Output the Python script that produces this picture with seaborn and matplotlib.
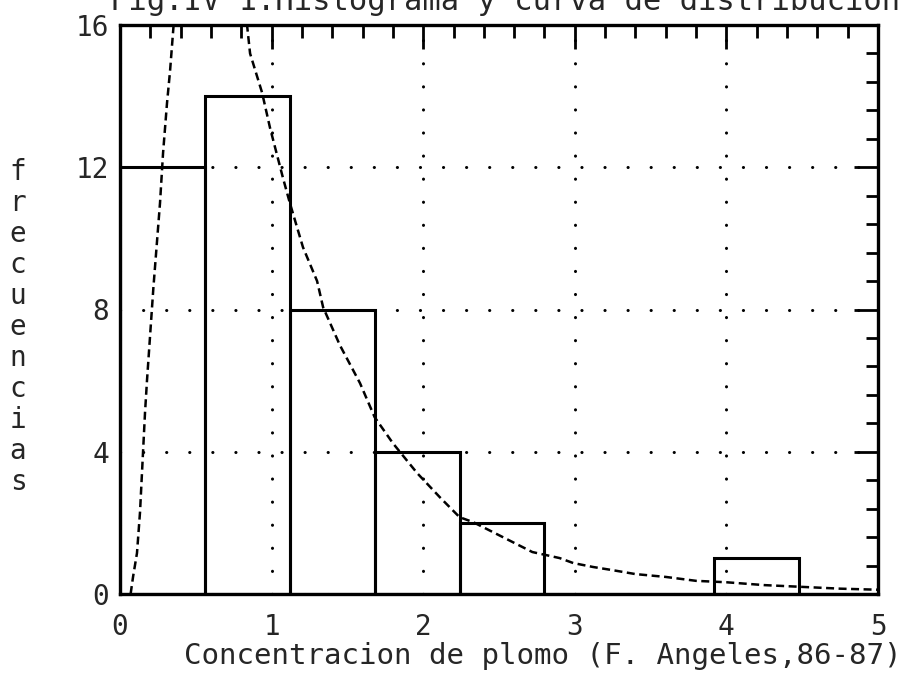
import numpy as np
import pandas as pd
import matplotlib
matplotlib.use("Agg")
import matplotlib.pyplot as plt
from matplotlib.ticker import MultipleLocator
import seaborn as sns

# Histogram: lead concentration classes and their frequencies
bin_edges = [0.0, 0.56, 1.12, 1.68, 2.24, 2.80, 3.36, 3.92, 4.48, 5.04]
frequencies = [12, 14, 8, 4, 2, 0, 0, 1, 0]

# Fitted distribution curve (expected frequency per class)
curve_x = [0.07, 0.086, 0.112, 0.132, 0.152, 0.165, 0.178, 0.22, 0.264, 0.284,
           0.31, 0.33, 0.35, 0.40, 0.50, 0.60, 0.70, 0.80, 0.838, 0.858, 0.937,
           0.99, 1.075, 1.12, 1.207, 1.30, 1.34, 1.45, 1.583, 1.68, 1.80, 1.96,
           2.11, 2.24, 2.33, 2.46, 2.59, 2.72, 2.90, 2.99, 3.12, 3.25, 3.40,
           3.60, 3.80, 4.00, 4.25, 4.50, 4.75, 5.00]
curve_y = [0.0, 0.48, 1.15, 2.3, 4.0, 5.1, 6.0, 8.6, 11.0, 12.4,
           13.8, 14.7, 15.8, 18.5, 20.5, 20.5, 19.0, 17.0, 16.0, 15.2, 14.1,
           13.1, 11.7, 11.0, 9.75, 8.8, 8.06, 7.0, 5.93, 4.97, 4.24, 3.40,
           2.72, 2.16, 2.02, 1.74, 1.46, 1.18, 1.01, 0.87, 0.76, 0.67, 0.56,
           0.48, 0.37, 0.33, 0.25, 0.20, 0.15, 0.12]

x_ticks = [0, 1, 2, 3, 4, 5]
y_ticks = [0, 4, 8, 12, 16]

title = "Fig.IV 1.Histograma y curva de distribucion"
x_label = "Concentracion de plomo (F. Angeles,86-87)"
y_label = "frecuencias"

sns.set_style("white")
plt.rcParams["font.family"] = ["DejaVu Sans Mono", "DejaVu Sans"]

fig = plt.figure(figsize=(9.05, 6.76), dpi=100)
ax = fig.add_axes([120 / 905, 1 - 594 / 676, 758 / 905, 569 / 676])

centers = [(a + b) / 2 for a, b in zip(bin_edges[:-1], bin_edges[1:])]
hist_df = pd.DataFrame({"conc": centers, "freq": frequencies})
sns.histplot(data=hist_df, x="conc", weights="freq", bins=bin_edges,
             fill=False, color="black", linewidth=2.2, element="bars", ax=ax,
             zorder=3)

curve_df = pd.DataFrame({"conc": curve_x, "freq": curve_y})
sns.lineplot(data=curve_df, x="conc", y="freq", sort=False, color="black",
             linewidth=1.8, linestyle=(0, (3.2, 1.8)), ax=ax, zorder=4)

ax.set_xlim(0, 5)
ax.set_ylim(0, 16)
ax.set_xticks(x_ticks)
ax.set_yticks(y_ticks)
ax.xaxis.set_minor_locator(MultipleLocator(0.2))
ax.yaxis.set_minor_locator(MultipleLocator(0.8))
ax.tick_params(which="both", direction="in", top=True, right=True,
               color="black", width=2.0)
ax.tick_params(which="major", length=17, labelsize=20)
ax.tick_params(which="minor", length=9)
ax.tick_params(axis="x", which="major", pad=14)
ax.tick_params(axis="y", which="major", pad=8)

ax.grid(True, which="major", color="black", linewidth=2.2,
        linestyle=(0, (0.05, 7.5)), dash_capstyle="round", zorder=1)
for s in ax.spines.values():
    s.set_linewidth(2.4)
    s.set_color("black")

ax.set_xlabel(x_label, fontsize=21)
ax.xaxis.set_label_coords((543 - 120) / 758, (594 - 656) / 569)
ax.xaxis.label.set_va("center")
ax.set_ylabel("")

fig.text(18 / 905, 1 - 327 / 676, "\n".join(y_label), fontsize=20,
         ha="center", va="center", linespacing=1.135)
fig.text(110 / 905, 1 - 10 / 676, title, fontsize=22, ha="left",
         va="baseline")

fig.savefig("out.png", dpi=100)
